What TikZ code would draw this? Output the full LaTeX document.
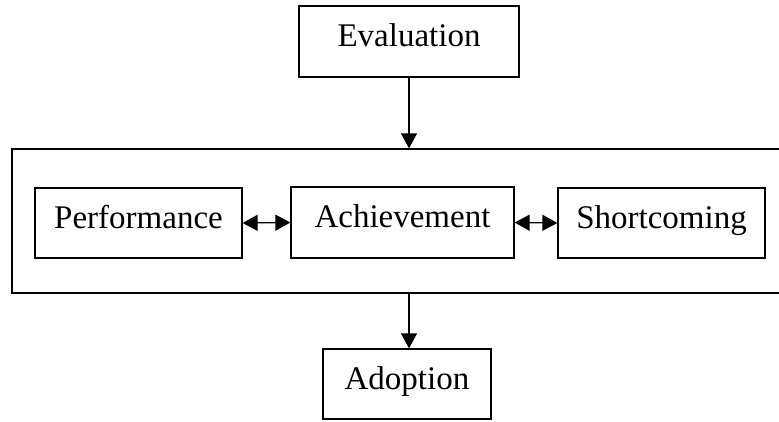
\documentclass[tikz,border=0pt]{standalone}
\usepackage{fontspec}
\setmainfont{Liberation Serif}
\usetikzlibrary{arrows.meta}
\begin{document}
\begin{tikzpicture}[x=1pt, y=-1pt, font=\fontsize{33}{36}\selectfont,
    box/.style={draw, line width=1.3pt, inner sep=0pt, minimum height=71pt,
      text height=22pt, text depth=12pt},
    link/.style={line width=1.3pt, -{Triangle[length=15pt,width=16pt]}},
    twoway/.style={line width=1.3pt, {Triangle[length=15pt,width=16pt]}-{Triangle[length=15pt,width=16pt]}}]
    \useasboundingbox (0,0) rectangle (779,421);
    % outer frame
    \node[box, minimum width=778pt, minimum height=144pt] (frame) at (401,221) {};
    % boxes
    \node[box, minimum width=220pt] (eval) at (409,41.5) {Evaluation};
    \node[box, minimum width=207pt, minimum height=70pt] (perf) at (138.5,223) {Performance};
    \node[box, minimum width=223pt] (achi) at (402.5,222.5) {Achievement};
    \node[box, minimum width=207pt, minimum height=70pt] (short) at (661.5,223) {Shortcoming};
    \node[box, minimum width=168pt, minimum height=70pt] (adop) at (407,384) {Adoption};
    % arrows
    \draw[link] (eval.south) -- (eval.south |- frame.north);
    \draw[link] (eval.south |- frame.south) -- (eval.south |- adop.north);
    \draw[twoway] (perf.east) -- (achi.west);
    \draw[twoway] (achi.east) -- (short.west);
\end{tikzpicture}
\end{document}
